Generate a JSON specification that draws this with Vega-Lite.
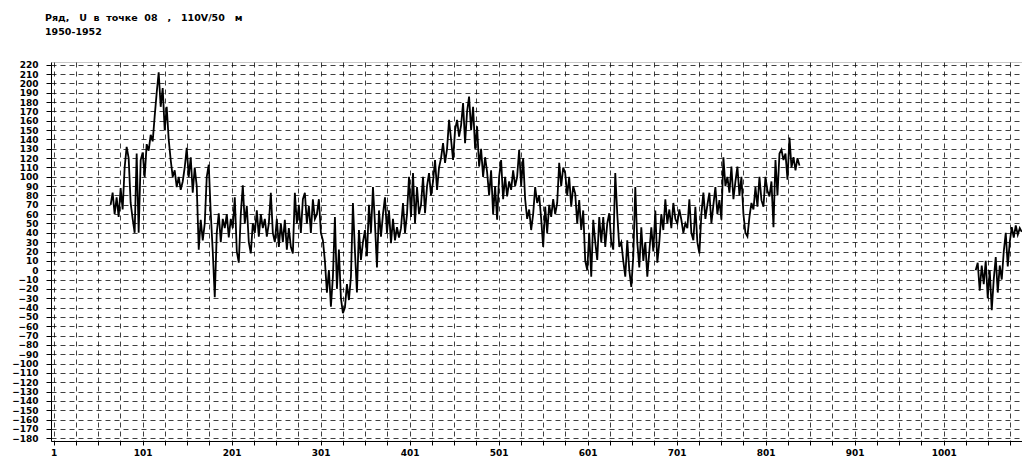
{
  "$schema": "https://vega.github.io/schema/vega-lite/v6.json",
  "autosize": {"type": "none"},
  "padding": {"left": 51, "top": 62, "right": 0, "bottom": 16},
  "width": 971,
  "height": 379,
  "background": "white",
  "title": {
    "text": ["Ряд,\u00a0\u00a0\u00a0U\u00a0 в\u00a0 точке\u00a0 08\u00a0\u00a0 ,\u00a0\u00a0 110V/50\u00a0\u00a0 м", "1950-1952"],
    "anchor": "start",
    "frame": "group",
    "dx": -6,
    "offset": 24,
    "fontSize": 9.5,
    "fontWeight": "bold",
    "font": "DejaVu Sans",
    "color": "black",
    "lineHeight": 14
  },
  "config": {
    "view": {"stroke": "#c8c8c8"},
    "axis": {
      "labelFont": "DejaVu Sans",
      "labelFontSize": 9,
      "labelFontWeight": "bold",
      "labelColor": "black",
      "domainColor": "black",
      "tickColor": "black",
      "gridColor": "black",
      "gridDash": [5, 4],
      "gridOpacity": 0.75,
      "gridWidth": 1,
      "title": null,
      "labelOverlap": false,
      "labelFlush": false
    }
  },
  "data": {"values": [
{"s":1,"d":65,"v":70},{"s":1,"d":67.25,"v":83},{"s":1,"d":69.5,"v":60},{"s":1,"d":71.75,"v":78},
{"s":1,"d":74,"v":57},{"s":1,"d":76.25,"v":88},{"s":1,"d":78.5,"v":65},{"s":1,"d":80.75,"v":110},
{"s":1,"d":83,"v":132},{"s":1,"d":85.25,"v":120},{"s":1,"d":87.5,"v":72},{"s":1,"d":89.75,"v":55},
{"s":1,"d":92,"v":40},{"s":1,"d":94.25,"v":125},{"s":1,"d":96.5,"v":40},{"s":1,"d":98.75,"v":118},
{"s":1,"d":101,"v":126},{"s":1,"d":103.25,"v":100},{"s":1,"d":105.5,"v":135},{"s":1,"d":107.75,"v":128},
{"s":1,"d":110,"v":145},{"s":1,"d":112.25,"v":138},{"s":1,"d":114.5,"v":165},{"s":1,"d":116.75,"v":190},
{"s":1,"d":119,"v":212},{"s":1,"d":121.25,"v":175},{"s":1,"d":123.5,"v":195},{"s":1,"d":125.75,"v":150},
{"s":1,"d":128,"v":175},{"s":1,"d":130.25,"v":140},{"s":1,"d":132.5,"v":118},{"s":1,"d":134.75,"v":100},
{"s":1,"d":137,"v":107},{"s":1,"d":139.25,"v":89},{"s":1,"d":141.5,"v":100},{"s":1,"d":143.75,"v":86},
{"s":1,"d":146,"v":95},{"s":1,"d":148.25,"v":110},{"s":1,"d":150.5,"v":131},{"s":1,"d":152.75,"v":100},
{"s":1,"d":155,"v":121},{"s":1,"d":157.25,"v":83},{"s":1,"d":159.5,"v":110},{"s":1,"d":161.75,"v":90},
{"s":1,"d":164,"v":22},{"s":1,"d":166.25,"v":54},{"s":1,"d":168.5,"v":32},{"s":1,"d":170.75,"v":50},
{"s":1,"d":173,"v":100},{"s":1,"d":175.25,"v":113},{"s":1,"d":177.5,"v":61},{"s":1,"d":179.75,"v":20},
{"s":1,"d":182,"v":-29},{"s":1,"d":184.25,"v":40},{"s":1,"d":186.5,"v":61},{"s":1,"d":188.75,"v":30},
{"s":1,"d":191,"v":55},{"s":1,"d":193.25,"v":45},{"s":1,"d":195.5,"v":60},{"s":1,"d":197.75,"v":35},
{"s":1,"d":200,"v":55},{"s":1,"d":202.25,"v":45},{"s":1,"d":204.5,"v":78},{"s":1,"d":206.75,"v":20},
{"s":1,"d":209,"v":8},{"s":1,"d":211.25,"v":60},{"s":1,"d":213.5,"v":91},{"s":1,"d":215.75,"v":50},
{"s":1,"d":218,"v":69},{"s":1,"d":220.25,"v":30},{"s":1,"d":222.5,"v":18},{"s":1,"d":224.75,"v":50},
{"s":1,"d":227,"v":40},{"s":1,"d":229.25,"v":64},{"s":1,"d":231.5,"v":36},{"s":1,"d":233.75,"v":60},
{"s":1,"d":236,"v":45},{"s":1,"d":238.25,"v":55},{"s":1,"d":240.5,"v":36},{"s":1,"d":242.75,"v":50},
{"s":1,"d":245,"v":83},{"s":1,"d":247.25,"v":40},{"s":1,"d":249.5,"v":30},{"s":1,"d":251.75,"v":55},
{"s":1,"d":254,"v":25},{"s":1,"d":256.25,"v":50},{"s":1,"d":258.5,"v":30},{"s":1,"d":260.75,"v":54},
{"s":1,"d":263,"v":22},{"s":1,"d":265.25,"v":45},{"s":1,"d":267.5,"v":25},{"s":1,"d":269.75,"v":18},
{"s":1,"d":272,"v":83},{"s":1,"d":274.25,"v":50},{"s":1,"d":276.5,"v":70},{"s":1,"d":278.75,"v":40},
{"s":1,"d":281,"v":76},{"s":1,"d":283.25,"v":83},{"s":1,"d":285.5,"v":50},{"s":1,"d":287.75,"v":69},
{"s":1,"d":290,"v":40},{"s":1,"d":292.25,"v":76},{"s":1,"d":294.5,"v":55},{"s":1,"d":296.75,"v":60},
{"s":1,"d":299,"v":76},{"s":1,"d":301.25,"v":40},{"s":1,"d":303.5,"v":32},{"s":1,"d":305.75,"v":10},
{"s":1,"d":308,"v":-24},{"s":1,"d":310.25,"v":0},{"s":1,"d":312.5,"v":-39},{"s":1,"d":314.75,"v":-7},
{"s":1,"d":317,"v":57},{"s":1,"d":319.25,"v":-20},{"s":1,"d":321.5,"v":22},{"s":1,"d":323.75,"v":-30},
{"s":1,"d":326,"v":-46},{"s":1,"d":328.25,"v":-40},{"s":1,"d":330.5,"v":-15},{"s":1,"d":332.75,"v":-32},
{"s":1,"d":335,"v":-7},{"s":1,"d":337.25,"v":72},{"s":1,"d":339.5,"v":20},{"s":1,"d":341.75,"v":-24},
{"s":1,"d":344,"v":43},{"s":1,"d":346.25,"v":11},{"s":1,"d":348.5,"v":30},{"s":1,"d":350.75,"v":43},
{"s":1,"d":353,"v":15},{"s":1,"d":355.25,"v":70},{"s":1,"d":357.5,"v":40},{"s":1,"d":359.75,"v":89},
{"s":1,"d":362,"v":50},{"s":1,"d":364.25,"v":3},{"s":1,"d":366.5,"v":64},{"s":1,"d":368.75,"v":36},
{"s":1,"d":371,"v":60},{"s":1,"d":373.25,"v":78},{"s":1,"d":375.5,"v":40},{"s":1,"d":377.75,"v":64},
{"s":1,"d":380,"v":29},{"s":1,"d":382.25,"v":55},{"s":1,"d":384.5,"v":32},{"s":1,"d":386.75,"v":46},
{"s":1,"d":389,"v":35},{"s":1,"d":391.25,"v":45},{"s":1,"d":393.5,"v":72},{"s":1,"d":395.75,"v":40},
{"s":1,"d":398,"v":60},{"s":1,"d":400.25,"v":100},{"s":1,"d":402.5,"v":57},{"s":1,"d":404.75,"v":104},
{"s":1,"d":407,"v":50},{"s":1,"d":409.25,"v":89},{"s":1,"d":411.5,"v":60},{"s":1,"d":413.75,"v":70},
{"s":1,"d":416,"v":100},{"s":1,"d":418.25,"v":61},{"s":1,"d":420.5,"v":90},{"s":1,"d":422.75,"v":104},
{"s":1,"d":425,"v":80},{"s":1,"d":427.25,"v":95},{"s":1,"d":429.5,"v":118},{"s":1,"d":431.75,"v":86},
{"s":1,"d":434,"v":110},{"s":1,"d":436.25,"v":120},{"s":1,"d":438.5,"v":136},{"s":1,"d":440.75,"v":115},
{"s":1,"d":443,"v":130},{"s":1,"d":445.25,"v":161},{"s":1,"d":447.5,"v":140},{"s":1,"d":449.75,"v":118},
{"s":1,"d":452,"v":150},{"s":1,"d":454.25,"v":161},{"s":1,"d":456.5,"v":143},{"s":1,"d":458.75,"v":155},
{"s":1,"d":461,"v":179},{"s":1,"d":463.25,"v":136},{"s":1,"d":465.5,"v":170},{"s":1,"d":467.75,"v":186},
{"s":1,"d":470,"v":150},{"s":1,"d":472.25,"v":175},{"s":1,"d":474.5,"v":130},{"s":1,"d":476.75,"v":154},
{"s":1,"d":479,"v":111},{"s":1,"d":481.25,"v":130},{"s":1,"d":483.5,"v":100},{"s":1,"d":485.75,"v":121},
{"s":1,"d":488,"v":105},{"s":1,"d":490.25,"v":80},{"s":1,"d":492.5,"v":107},{"s":1,"d":494.75,"v":60},
{"s":1,"d":497,"v":90},{"s":1,"d":499.25,"v":54},{"s":1,"d":501.5,"v":100},{"s":1,"d":503.75,"v":118},
{"s":1,"d":506,"v":76},{"s":1,"d":508.25,"v":100},{"s":1,"d":510.5,"v":79},{"s":1,"d":512.75,"v":95},
{"s":1,"d":515,"v":86},{"s":1,"d":517.25,"v":107},{"s":1,"d":519.5,"v":90},{"s":1,"d":521.75,"v":100},
{"s":1,"d":524,"v":129},{"s":1,"d":526.25,"v":90},{"s":1,"d":528.5,"v":120},{"s":1,"d":530.75,"v":76},
{"s":1,"d":533,"v":55},{"s":1,"d":535.25,"v":65},{"s":1,"d":537.5,"v":43},{"s":1,"d":539.75,"v":60},
{"s":1,"d":542,"v":89},{"s":1,"d":544.25,"v":72},{"s":1,"d":546.5,"v":80},{"s":1,"d":548.75,"v":55},
{"s":1,"d":551,"v":25},{"s":1,"d":553.25,"v":68},{"s":1,"d":555.5,"v":40},{"s":1,"d":557.75,"v":70},
{"s":1,"d":560,"v":57},{"s":1,"d":562.25,"v":76},{"s":1,"d":564.5,"v":60},{"s":1,"d":566.75,"v":72},
{"s":1,"d":569,"v":115},{"s":1,"d":571.25,"v":90},{"s":1,"d":573.5,"v":110},{"s":1,"d":575.75,"v":104},
{"s":1,"d":578,"v":80},{"s":1,"d":580.25,"v":100},{"s":1,"d":582.5,"v":68},{"s":1,"d":584.75,"v":90},
{"s":1,"d":587,"v":82},{"s":1,"d":589.25,"v":50},{"s":1,"d":591.5,"v":75},{"s":1,"d":593.75,"v":43},
{"s":1,"d":596,"v":64},{"s":1,"d":598.25,"v":10},{"s":1,"d":600.5,"v":0},{"s":1,"d":602.75,"v":40},
{"s":1,"d":605,"v":-7},{"s":1,"d":607.25,"v":54},{"s":1,"d":609.5,"v":30},{"s":1,"d":611.75,"v":11},
{"s":1,"d":614,"v":57},{"s":1,"d":616.25,"v":30},{"s":1,"d":618.5,"v":57},{"s":1,"d":620.75,"v":25},
{"s":1,"d":623,"v":50},{"s":1,"d":625.25,"v":61},{"s":1,"d":627.5,"v":30},{"s":1,"d":629.75,"v":22},
{"s":1,"d":632,"v":104},{"s":1,"d":634.25,"v":60},{"s":1,"d":636.5,"v":25},{"s":1,"d":638.75,"v":30},
{"s":1,"d":641,"v":10},{"s":1,"d":643.25,"v":-7},{"s":1,"d":645.5,"v":32},{"s":1,"d":647.75,"v":0},
{"s":1,"d":650,"v":-18},{"s":1,"d":652.25,"v":15},{"s":1,"d":654.5,"v":89},{"s":1,"d":656.75,"v":30},
{"s":1,"d":659,"v":3},{"s":1,"d":661.25,"v":46},{"s":1,"d":663.5,"v":10},{"s":1,"d":665.75,"v":30},
{"s":1,"d":668,"v":-7},{"s":1,"d":670.25,"v":20},{"s":1,"d":672.5,"v":46},{"s":1,"d":674.75,"v":20},
{"s":1,"d":677,"v":64},{"s":1,"d":679.25,"v":8},{"s":1,"d":681.5,"v":30},{"s":1,"d":683.75,"v":60},
{"s":1,"d":686,"v":43},{"s":1,"d":688.25,"v":76},{"s":1,"d":690.5,"v":50},{"s":1,"d":692.75,"v":65},
{"s":1,"d":695,"v":45},{"s":1,"d":697.25,"v":72},{"s":1,"d":699.5,"v":55},{"s":1,"d":701.75,"v":50},
{"s":1,"d":704,"v":65},{"s":1,"d":706.25,"v":54},{"s":1,"d":708.5,"v":40},{"s":1,"d":710.75,"v":50},
{"s":1,"d":713,"v":45},{"s":1,"d":715.25,"v":76},{"s":1,"d":717.5,"v":40},{"s":1,"d":719.75,"v":32},
{"s":1,"d":722,"v":68},{"s":1,"d":724.25,"v":30},{"s":1,"d":726.5,"v":18},{"s":1,"d":728.75,"v":60},
{"s":1,"d":731,"v":83},{"s":1,"d":733.25,"v":55},{"s":1,"d":735.5,"v":70},{"s":1,"d":737.75,"v":83},
{"s":1,"d":740,"v":50},{"s":1,"d":742.25,"v":70},{"s":1,"d":744.5,"v":89},{"s":1,"d":746.75,"v":60},
{"s":1,"d":749,"v":75},{"s":1,"d":751.25,"v":54},{"s":1,"d":753.5,"v":121},{"s":1,"d":755.75,"v":90},
{"s":1,"d":758,"v":100},{"s":1,"d":760.25,"v":83},{"s":1,"d":762.5,"v":111},{"s":1,"d":764.75,"v":76},
{"s":1,"d":767,"v":95},{"s":1,"d":769.25,"v":111},{"s":1,"d":771.5,"v":80},{"s":1,"d":773.75,"v":100},
{"s":1,"d":776,"v":60},{"s":1,"d":778.25,"v":40},{"s":1,"d":780.5,"v":36},{"s":1,"d":782.75,"v":57},
{"s":1,"d":785,"v":72},{"s":1,"d":787.25,"v":65},{"s":1,"d":789.5,"v":89},{"s":1,"d":791.75,"v":68},
{"s":1,"d":794,"v":100},{"s":1,"d":796.25,"v":75},{"s":1,"d":798.5,"v":68},{"s":1,"d":800.75,"v":100},
{"s":1,"d":803,"v":85},{"s":1,"d":805.25,"v":79},{"s":1,"d":807.5,"v":95},{"s":1,"d":809.75,"v":46},
{"s":1,"d":812,"v":118},{"s":1,"d":814.25,"v":80},{"s":1,"d":816.5,"v":125},{"s":1,"d":818.75,"v":129},
{"s":1,"d":821,"v":118},{"s":1,"d":823.25,"v":125},{"s":1,"d":825.5,"v":97},{"s":1,"d":827.75,"v":142},
{"s":1,"d":830,"v":110},{"s":1,"d":832.25,"v":121},{"s":1,"d":834.5,"v":107},{"s":1,"d":836.75,"v":120},
{"s":1,"d":839,"v":112},
{"s":2,"d":1037,"v":0},{"s":2,"d":1039.25,"v":8},{"s":2,"d":1041.5,"v":-22},{"s":2,"d":1043.75,"v":5},
{"s":2,"d":1046,"v":-15},{"s":2,"d":1048.25,"v":10},{"s":2,"d":1050.5,"v":-30},{"s":2,"d":1052.75,"v":0},
{"s":2,"d":1055,"v":-43},{"s":2,"d":1057.25,"v":-10},{"s":2,"d":1059.5,"v":14},{"s":2,"d":1061.75,"v":-24},
{"s":2,"d":1064,"v":5},{"s":2,"d":1066.25,"v":-10},{"s":2,"d":1068.5,"v":20},{"s":2,"d":1070.75,"v":40},
{"s":2,"d":1073,"v":4},{"s":2,"d":1075.25,"v":30},{"s":2,"d":1077.5,"v":46},{"s":2,"d":1079.75,"v":35},
{"s":2,"d":1082,"v":48},{"s":2,"d":1084.25,"v":38},{"s":2,"d":1086.5,"v":45},{"s":2,"d":1088.75,"v":41}
  ]},
  "mark": {"type": "line", "color": "black", "strokeWidth": 1.8, "clip": true},
  "encoding": {
    "x": {
      "field": "d", "type": "quantitative",
      "scale": {"domain": [-2, 1089], "nice": false, "zero": false},
      "axis": {
        "values": [1,26,51,76,101,126,151,176,201,226,251,276,301,326,351,376,401,426,451,476,501,526,551,576,601,626,651,676,701,726,751,776,801,826,851,876,901,926,951,976,1001,1026,1051,1076],
        "labelExpr": "(datum.value - 1) % 100 == 0 ? datum.label : ''",
        "format": "d",
        "tickSize": 4,
        "labelPadding": 3
      }
    },
    "y": {
      "field": "v", "type": "quantitative",
      "scale": {"domain": [-183, 223], "nice": false, "zero": false},
      "axis": {
        "values": [-180,-170,-160,-150,-140,-130,-120,-110,-100,-90,-80,-70,-60,-50,-40,-30,-20,-10,0,10,20,30,40,50,60,70,80,90,100,110,120,130,140,150,160,170,180,190,200,210,220],
        "format": "d",
        "tickSize": 5,
        "labelPadding": 8
      }
    },
    "detail": {"field": "s", "type": "nominal"}
  }
}
